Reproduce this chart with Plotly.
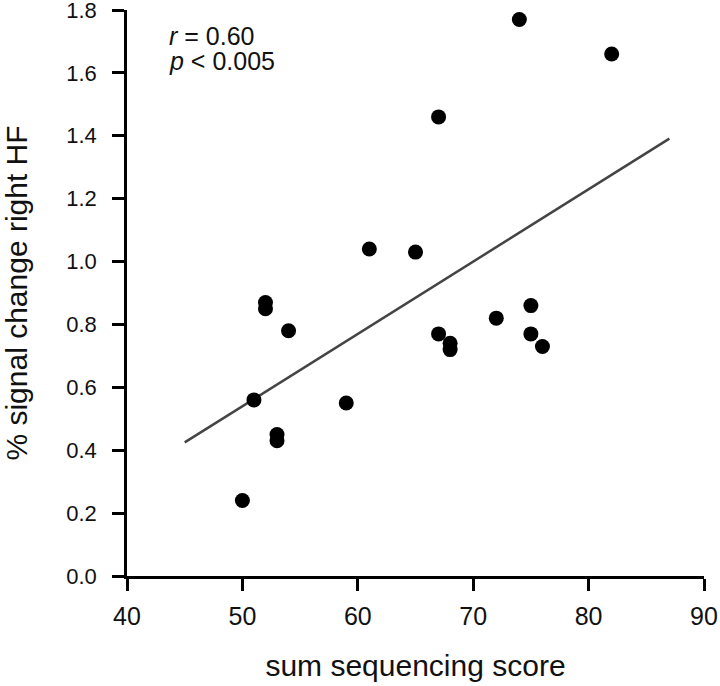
import numpy as np
import plotly.graph_objects as go

# Data
score = [50, 51, 52, 52, 53, 53, 54, 59, 61, 65, 67, 67, 68, 68, 72, 74, 75, 75, 76, 82]
signal = [0.24, 0.56, 0.87, 0.85, 0.45, 0.43, 0.78, 0.55, 1.04, 1.03, 1.46, 0.77,
          0.74, 0.72, 0.82, 1.77, 0.86, 0.77, 0.73, 1.66]
fit_range = [45, 87]
x_ticks = [40, 50, 60, 70, 80, 90]
y_ticks = [0.0, 0.2, 0.4, 0.6, 0.8, 1.0, 1.2, 1.4, 1.6, 1.8]
stat_r = "<i>r</i> = 0.60"
stat_p = "<i>p</i> < 0.005"

slope, intercept = np.polyfit(score, signal, 1)
fit_x = np.array(fit_range, dtype=float)
fit_y = slope * fit_x + intercept

FONT = "Liberation Sans, Arial, sans-serif"
TXT = "#111111"

fig = go.Figure()
fig.add_trace(go.Scatter(x=fit_x, y=fit_y, mode="lines",
                         line=dict(color="#444444", width=2.5),
                         hoverinfo="skip", showlegend=False))
fig.add_trace(go.Scatter(x=score, y=signal, mode="markers",
                         marker=dict(color="black", size=15, line=dict(width=0)),
                         showlegend=False, cliponaxis=False))

axis_common = dict(showline=True, linecolor="black", linewidth=2.5,
                   ticks="outside", ticklen=12, tickwidth=2.5, tickcolor="black",
                   showgrid=False, zeroline=False, automargin=False,
                   ticklabeloverflow="allow")

fig.update_xaxes(range=[40, 90.0001], tickvals=x_ticks,
                 ticktext=[str(v) for v in x_ticks],
                 tickfont=dict(family=FONT, size=25, color=TXT),
                 title=dict(text="sum sequencing score",
                            font=dict(family=FONT, size=30, color=TXT),
                            standoff=27),
                 ticklabelstandoff=4, **axis_common)
fig.update_yaxes(range=[0, 1.80001], tickvals=y_ticks,
                 ticktext=[f"{v:.1f}" for v in y_ticks],
                 tickfont=dict(family=FONT, size=22, color=TXT),
                 title=dict(text="% signal change right HF",
                            font=dict(family=FONT, size=30, color=TXT),
                            standoff=33),
                 ticklabelstandoff=11, **axis_common)

fig.add_annotation(x=0.069, y=0.983, xref="paper", yref="paper",
                   xanchor="left", yanchor="top", align="left",
                   text=stat_r, showarrow=False,
                   font=dict(family=FONT, size=25, color=TXT))
fig.add_annotation(x=0.069, y=0.938, xref="paper", yref="paper",
                   xanchor="left", yanchor="top", align="left",
                   text=stat_p, showarrow=False,
                   font=dict(family=FONT, size=25, color=TXT))

fig.update_layout(width=720, height=686,
                  margin=dict(l=127, r=16, t=10, b=110),
                  plot_bgcolor="white", paper_bgcolor="white")

fig.write_html("out.html",
               config={"displayModeBar": False},
               post_script="document.body.style.margin='0';document.body.style.overflow='hidden';")
